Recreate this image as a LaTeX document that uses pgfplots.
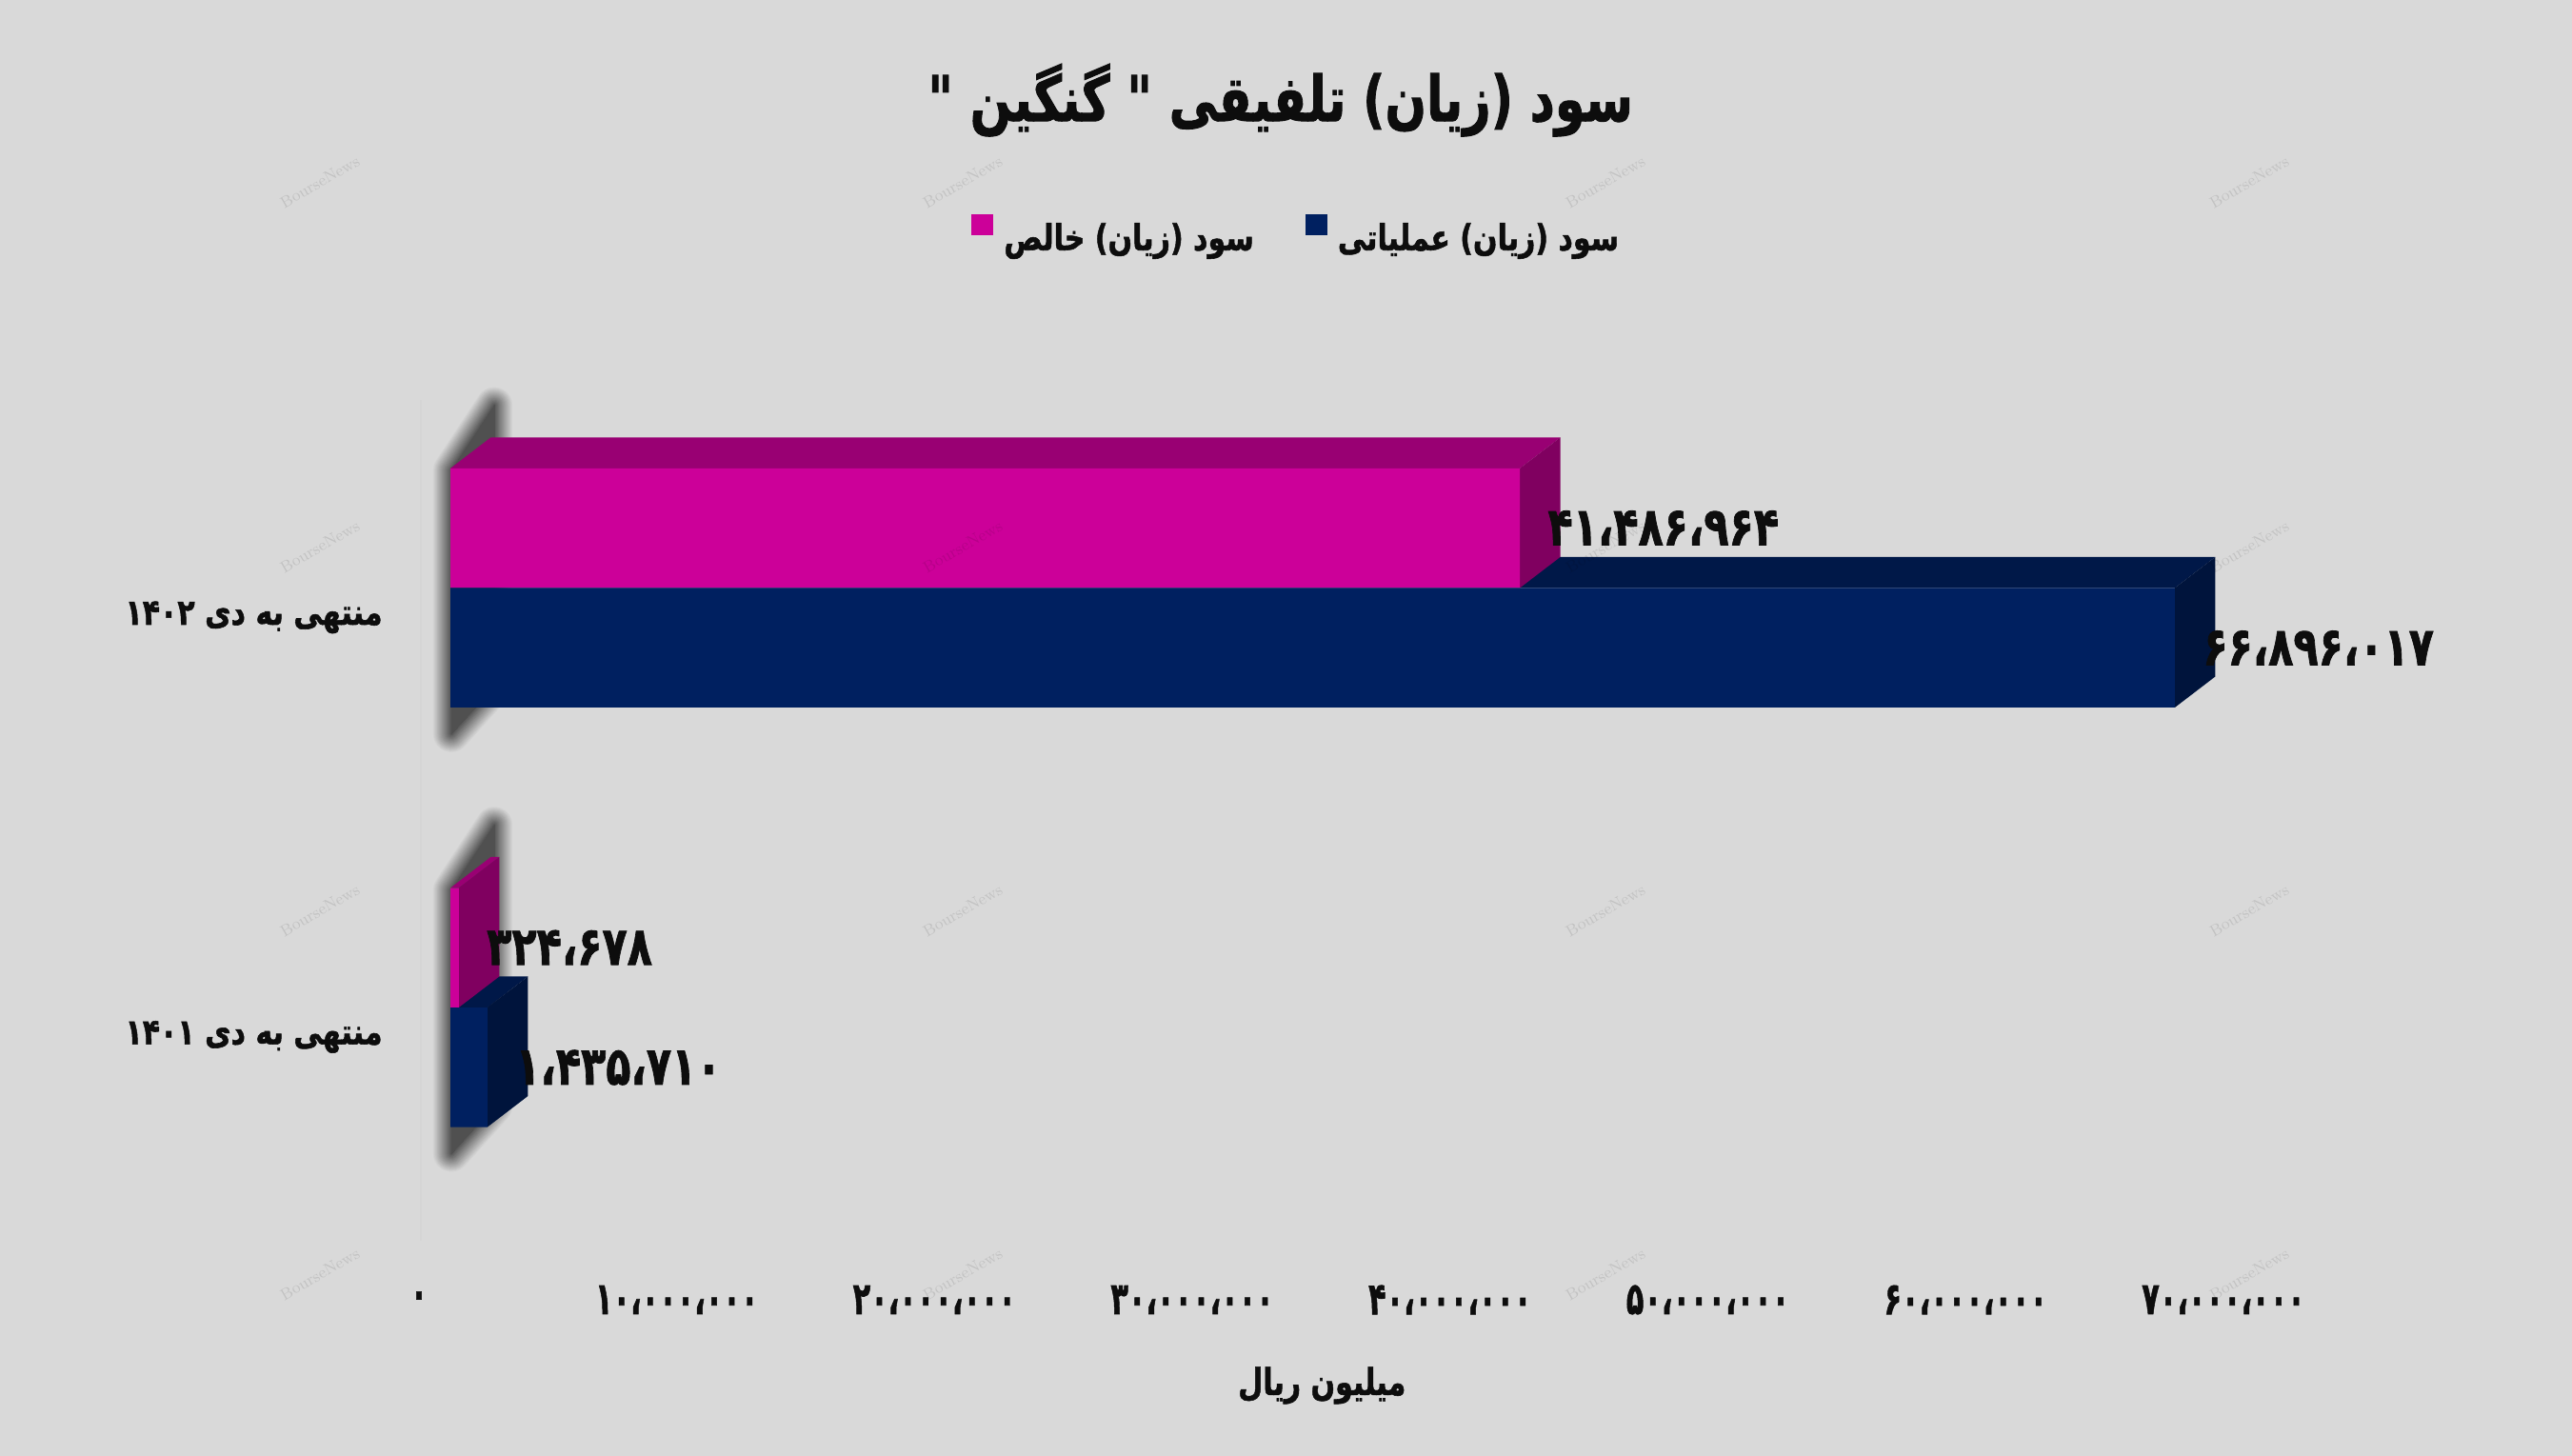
\documentclass[border=0pt]{standalone}
\usepackage{fontspec}
\usepackage{pgfplots}
\usepackage{pgfplotstable}
\pgfplotsset{compat=1.18}
\TeXXeTstate=1
\newfontfamily\fa[Script=Arabic,BoldFeatures={FakeBold=1.5}]{DejaVu Sans}
\newcommand{\fat}[1]{{\fa\bfseries\beginR #1\endR}}
\newcommand{\fan}[1]{{\fa\bfseries #1}}
\newcommand{\tk}[1]{\scalebox{1}[1.55]{#1}}
\definecolor{bg}{HTML}{D9D9D9}
\definecolor{ink}{HTML}{0D0D0D}
\definecolor{mag}{HTML}{CC0099}
\definecolor{magtop}{HTML}{990073}
\definecolor{magside}{HTML}{800060}
\definecolor{nav}{HTML}{002060}
\definecolor{navtop}{HTML}{001848}
\definecolor{navside}{HTML}{00143C}

% series: value, category (0 = 1401, 1 = 1402), label
\pgfplotstableread{
val cat label
41486964 1 ۴۱،۴۸۶،۹۶۴
324678 0 ۳۲۴،۶۷۸
}\tblnet
\pgfplotstableread{
val cat label
66896017 1 ۶۶،۸۹۶،۰۱۷
1435710 0 ۱،۴۳۵،۷۱۰
}\tblop
% blurred shadow behind the bar roots
\pgfplotstableread{
x y
37000 0.652
37000 1.280
1700000 1.435
1700000 0.765
}\shadowtop
\pgfplotstableread{
x y
37000 -0.348
37000 0.280
1700000 0.435
1700000 -0.235
}\shadowbot

\pgfplotsset{sqlegend/.style={legend image code/.code={
    \fill[##1] (0pt,1.5pt) rectangle (11.5pt,12.5pt);
    \path (15pt,0pt);}}}

\begin{document}
\begin{tikzpicture}
\fill[bg,use as bounding box] (0,0) rectangle (1350.5pt,764.5pt);
\begin{axis}[
    at={(236.5pt,113pt)}, anchor=south west,
    scale only axis, width=947.5pt, height=441.5pt,
    xmin=0, xmax=70000000, ymin=-0.556, ymax=1.448,
    clip=false,
    axis line style={draw=none},
    major tick length=0pt,
    scaled ticks=false,
    xtick={0,10000000,20000000,30000000,40000000,50000000,60000000,70000000},
    xticklabels={\tk{۰},\tk{۱۰،۰۰۰،۰۰۰},\tk{۲۰،۰۰۰،۰۰۰},\tk{۳۰،۰۰۰،۰۰۰},\tk{۴۰،۰۰۰،۰۰۰},\tk{۵۰،۰۰۰،۰۰۰},\tk{۶۰،۰۰۰،۰۰۰},\tk{۷۰،۰۰۰،۰۰۰}},
    xticklabel style={anchor=center,xshift=-16.5pt,yshift=-31pt,inner sep=0pt,text=ink,
        font=\fa\bfseries\fontsize{15.2}{15.2}\selectfont},
    ytick={0,1},
    yticklabels={\scalebox{1}[1.25]{\fat{منتهی به دی ۱۴۰۱}},\scalebox{1}[1.25]{\fat{منتهی به دی ۱۴۰۲}}},
    yticklabel style={anchor=east,xshift=-35.5pt,yshift=-15.5pt,inner sep=0pt,text=ink,
        font=\fontsize{15}{15}\selectfont},
    title={\scalebox{1}[1.3]{\fat{سود (زیان) تلفیقی " گنگین "}}},
    title style={at={(axis description cs:0.460,1.343)},anchor=center,inner sep=0pt,text=ink,
        font=\fontsize{25.5}{25.5}\selectfont},
    xlabel={\scalebox{1}[1.3]{\fat{میلیون ریال}}},
    xlabel style={at={(axis description cs:0.483,-0.172)},anchor=center,inner sep=0pt,text=ink,
        font=\fontsize{15}{15}\selectfont},
    legend style={at={(axis description cs:0.4693,1.1955)},anchor=center,draw=none,fill=none,
        legend columns=2,text=ink,font=\fontsize{15}{15}\selectfont,
        /tikz/every even column/.append style={column sep=25pt}},
]
% faint back wall line
\addplot[color=black!2!bg,line width=1pt,forget plot] coordinates {(-1145000,-0.556) (-1145000,1.448)};
% shadows, opaque rings from pale outside to dark inside
\pgfplotsinvokeforeach{3,6,9,12,15,18,21,24,27,30,33,36,39,42,45,48,51,54,57,60,63}{
  \addplot[draw=black!#1!bg,fill=black!#1!bg,line width={(63-#1)*20/63*1pt},line join=round,forget plot] table[x=x,y=y]{\shadowtop} --cycle;
  \addplot[draw=black!#1!bg,fill=black!#1!bg,line width={(63-#1)*20/63*1pt},line join=round,forget plot] table[x=x,y=y]{\shadowbot} --cycle;
}
% depth faces, back to front
\addplot[fill=navtop,draw=none,forget plot] coordinates {(0,1) (66896017,1) (68466017,1.0738) (1570000,1.0738)} --cycle;
\addplot[fill=navside,draw=none,forget plot] coordinates {(66896017,0.7151) (66896017,1) (68466017,1.0738) (68466017,0.7889)} --cycle;
\addplot[fill=magtop,draw=none,forget plot] coordinates {(0,1.2849) (41486964,1.2849) (43056964,1.3587) (1570000,1.3587)} --cycle;
\addplot[fill=magside,draw=none,forget plot] coordinates {(41486964,1) (41486964,1.2849) (43056964,1.3587) (43056964,1.0738)} --cycle;
\addplot[fill=navtop,draw=none,forget plot] coordinates {(0,0) (1435710,0) (3005710,0.0738) (1570000,0.0738)} --cycle;
\addplot[fill=navside,draw=none,forget plot] coordinates {(1435710,-0.2849) (1435710,0) (3005710,0.0738) (3005710,-0.2111)} --cycle;
\addplot[fill=magtop,draw=none,forget plot] coordinates {(0,0.2849) (324678,0.2849) (1894678,0.3587) (1570000,0.3587)} --cycle;
\addplot[fill=magside,draw=none,forget plot] coordinates {(324678,0) (324678,0.2849) (1894678,0.3587) (1894678,0.0738)} --cycle;
% front faces
\addplot[xbar,bar width=62.75pt,bar shift=31.375pt,fill=mag,draw=none,sqlegend,
    point meta=explicit symbolic,
    nodes near coords={\fan{\scalebox{1}[1.3]{\pgfplotspointmeta}}},
    every node near coord/.append style={anchor=west,inner sep=0pt,xshift=14.5pt,yshift=31.5pt,text=ink,font=\fontsize{21.5}{21.5}\selectfont}]
    table[x=val,y=cat,meta=label]{\tblnet};
\addplot[xbar,bar width=62.75pt,bar shift=-31.375pt,fill=nav,draw=none,sqlegend,
    point meta=explicit symbolic,
    nodes near coords={\fan{\scalebox{1}[1.3]{\pgfplotspointmeta}}},
    every node near coord/.append style={anchor=west,inner sep=0pt,xshift=14.5pt,yshift=-31.5pt,text=ink,font=\fontsize{21.5}{21.5}\selectfont}]
    table[x=val,y=cat,meta=label]{\tblop};
\legend{\scalebox{1}[1.25]{\fat{سود (زیان) خالص}},\scalebox{1}[1.25]{\fat{سود (زیان) عملیاتی}}}
\end{axis}
% watermark
\foreach \wx in {336,1011,1686,2362}
  \foreach \wy in {191,574,956,1338}
    \node[rotate=30,black,opacity=0.1,font=\fontfamily{lmr}\selectfont\fontsize{8.5}{8.5}\selectfont] at ({\wx*0.5pt},{(1529-\wy)*0.5pt}) {BourseNews};
\end{tikzpicture}
\end{document}
